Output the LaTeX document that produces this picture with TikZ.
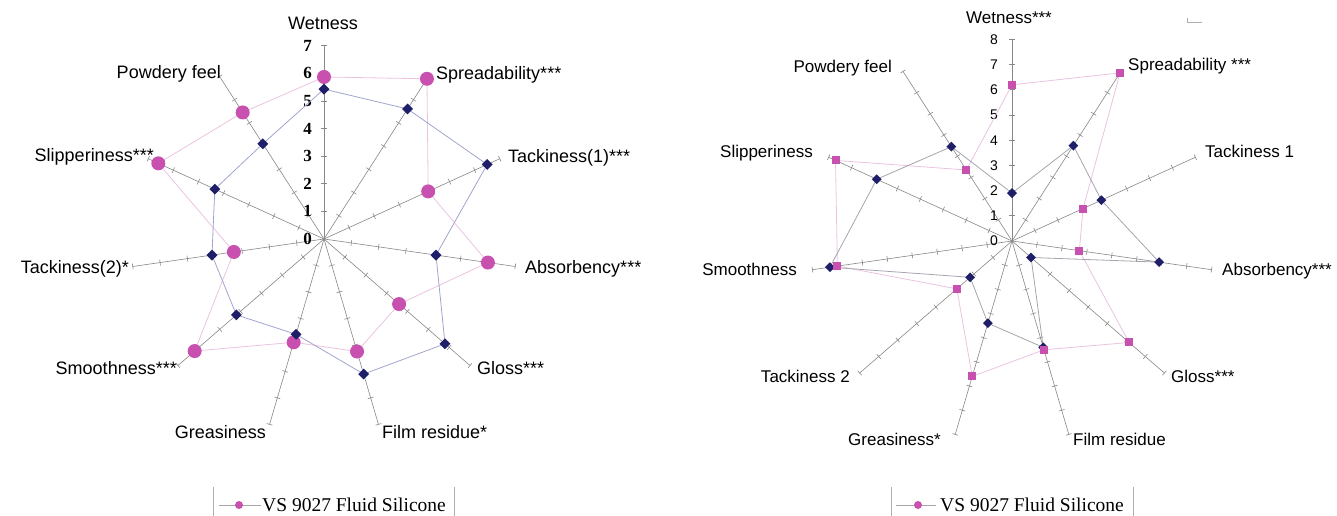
\documentclass[tikz,border=0pt]{standalone}
\usepackage{fontspec}
\setmainfont{Liberation Serif}
\setsansfont{Liberation Sans}
\usepackage{xcolor}
\usetikzlibrary{shapes.geometric}

\definecolor{pinkmark}{RGB}{200,80,175}
\definecolor{navymark}{RGB}{30,30,105}
\definecolor{pinkline}{RGB}{235,195,225}
\definecolor{navyline}{RGB}{160,165,205}
\definecolor{greyline}{RGB}{165,165,175}
\definecolor{axisgrey}{RGB}{135,135,135}
\definecolor{framegrey}{RGB}{175,175,175}

\begin{document}
\begin{tikzpicture}[x=1pt, y=1pt]
    \tikzset{
        axis_line/.style={draw=axisgrey, line width=0.6pt},
        series_pink/.style={draw=pinkline, line width=0.8pt},
        series_navy/.style={draw=navyline, line width=0.8pt},
        series_grey/.style={draw=greyline, line width=0.8pt},
        pink_dot/.style={circle, fill=pinkmark, inner sep=0pt, minimum size=14pt},
        pink_box/.style={rectangle, fill=pinkmark, inner sep=0pt, minimum size=8pt},
        navy_dia/.style={diamond, fill=navymark, inner sep=0pt, minimum size=11pt},
        navy_dia_small/.style={diamond, fill=navymark, inner sep=0pt, minimum size=10pt},
        label_l/.style={font=\sffamily\fontsize{18}{20}\selectfont, inner sep=0pt, text height=13pt, text depth=0pt},
        label_r/.style={font=\sffamily\fontsize{17}{19}\selectfont, inner sep=0pt, text height=12pt, text depth=0pt},
        num_l/.style={font=\bfseries\fontsize{17}{19}\selectfont, inner sep=0pt, text height=11pt, text depth=0pt, anchor=east},
        num_r/.style={font=\sffamily\fontsize{14}{16}\selectfont, inner sep=0pt, text height=10pt, text depth=0pt, anchor=east},
        legend_frame/.style={draw=framegrey, line width=0.7pt},
        legend_line/.style={draw=gray!70, line width=0.7pt},
        legend_mark/.style={circle, fill=pinkmark, inner sep=0pt, minimum size=8pt},
        legend_text/.style={font=\fontsize{19.5}{22}\selectfont, inner sep=0pt, text height=13pt, text depth=0pt, anchor=west}
    }
    \useasboundingbox (0,0) rectangle (1337,516);

    % left chart: 11 axes, 0..7
    \coordinate (LC) at (324,277);
    \foreach \k in {0,...,10} {
        \path (LC) ++({90-\k*360/11}:193.2) coordinate (LE\k);
        \draw[axis_line] (LC) -- (LE\k);
        \foreach \v in {1,...,7}
            \draw[axis_line] (LC) ++({90-\k*360/11}:\v*27.6) ++({-\k*360/11}:3) -- ++({180-\k*360/11}:6);
    }
    \foreach \v in {0,...,7}
        \path (LC) ++(-12,\v*27.6) node[num_l] {\v};

    \foreach \v [count=\k from 0] in {5.87,6.9,4.15,6.0,3.6,4.25,3.9,6.2,3.3,6.6,5.45}
        \path (LC) ++({90-\k*360/11}:\v*27.6) coordinate (LP\k);
    \foreach \v [count=\k from 0] in {5.43,5.6,6.5,4.1,5.8,5.1,3.6,4.2,4.1,4.35,4.1}
        \path (LC) ++({90-\k*360/11}:\v*27.6) coordinate (LN\k);
    \draw[series_pink] (LP0) \foreach \k in {1,...,10} { -- (LP\k) } -- cycle;
    \draw[series_navy] (LN0) \foreach \k in {1,...,10} { -- (LN\k) } -- cycle;
    \foreach \k in {0,...,10} \node[pink_dot] at (LP\k) {};
    \foreach \k in {0,...,10} \node[navy_dia] at (LN\k) {};

    \node[label_l] (l_wet) at (323,493) {Wetness};
    \node[label_l, anchor=west] (l_spread) at (436,443) {Spreadability***};
    \node[label_l, anchor=west] (l_tack1) at (508,360) {Tackiness(1)***};
    \node[label_l, anchor=west] (l_abs) at (525,249) {Absorbency***};
    \node[label_l, anchor=west] (l_gloss) at (477,148) {Gloss***};
    \node[label_l, anchor=west] (l_film) at (382,84) {Film residue*};
    \node[label_l, anchor=east] (l_grease) at (266,84) {Greasiness};
    \node[label_l, anchor=east] (l_smooth) at (177,148) {Smoothness***};
    \node[label_l, anchor=east] (l_tack2) at (129,249) {Tackiness(2)*};
    \node[label_l, anchor=east] (l_slip) at (154,361) {Slipperiness***};
    \node[label_l, anchor=east] (l_powder) at (221,444) {Powdery feel};

    % left legend
    \coordinate (LLa) at (213,0);
    \coordinate (LLb) at (213,29);
    \coordinate (LLc) at (454,0);
    \coordinate (LLd) at (454,29);
    \draw[legend_frame] (LLa) -- (LLb);
    \draw[legend_frame] (LLc) -- (LLd);
    \coordinate (LLs) at (219,11);
    \coordinate (LLt) at (261,11);
    \draw[legend_line] (LLs) -- (LLt);
    \node[legend_mark] (LLm) at (239,11) {};
    \node[legend_text] (LLx) at (262,11) {VS 9027 Fluid Silicone};

    % right chart: 11 axes, 0..8
    \coordinate (RC) at (1012,275);
    \foreach \k in {0,...,10} {
        \path (RC) ++({90-\k*360/11}:201.6) coordinate (RE\k);
        \draw[axis_line] (RC) -- (RE\k);
        \foreach \v in {1,...,8}
            \draw[axis_line] (RC) ++({90-\k*360/11}:\v*25.2) ++({-\k*360/11}:3) -- ++({180-\k*360/11}:6);
    }
    \foreach \v in {0,...,8}
        \path (RC) ++(-14,\v*25.2) node[num_r] {\v};

    \foreach \v [count=\k from 0] in {6.2,7.93,3.1,2.7,6.15,4.5,5.6,2.9,7.0,7.7,3.35}
        \path (RC) ++({90-\k*360/11}:\v*25.2) coordinate (RP\k);
    \foreach \v [count=\k from 0] in {1.9,4.5,3.9,5.9,1.0,4.4,3.4,2.2,7.3,5.9,4.45}
        \path (RC) ++({90-\k*360/11}:\v*25.2) coordinate (RN\k);
    \draw[series_pink] (RP0) \foreach \k in {1,...,10} { -- (RP\k) } -- cycle;
    \draw[series_grey] (RN0) \foreach \k in {1,...,10} { -- (RN\k) } -- cycle;
    \foreach \k in {0,...,10} \node[navy_dia_small] at (RN\k) {};
    \foreach \k in {0,...,10} \node[pink_box] at (RP\k) {};

    \node[label_r] (r_wet) at (1009,498) {Wetness***};
    \node[label_r, anchor=west] (r_spread) at (1128,451) {Spreadability ***};
    \node[label_r, anchor=west] (r_tack1) at (1205,364) {Tackiness 1};
    \node[label_r, anchor=west] (r_abs) at (1222,246) {Absorbency***};
    \node[label_r, anchor=west] (r_gloss) at (1171,139) {Gloss***};
    \node[label_r, anchor=west] (r_film) at (1073,76) {Film residue};
    \node[label_r, anchor=east] (r_grease) at (941,76) {Greasiness*};
    \node[label_r, anchor=east] (r_tack2) at (850,139) {Tackiness 2};
    \node[label_r, anchor=east] (r_smooth) at (797,246) {Smoothness};
    \node[label_r, anchor=east] (r_slip) at (813,364) {Slipperiness};
    \node[label_r, anchor=east] (r_powder) at (892,449) {Powdery feel};

    % stray corner mark
    \coordinate (RMa) at (1187,498);
    \coordinate (RMb) at (1187,494);
    \coordinate (RMc) at (1202,494);
    \draw[legend_frame] (RMa) -- (RMb) -- (RMc);

    % right legend
    \coordinate (RLa) at (891,0);
    \coordinate (RLb) at (891,29);
    \coordinate (RLc) at (1133,0);
    \coordinate (RLd) at (1133,29);
    \draw[legend_frame] (RLa) -- (RLb);
    \draw[legend_frame] (RLc) -- (RLd);
    \coordinate (RLs) at (896,11);
    \coordinate (RLt) at (936,11);
    \draw[legend_line] (RLs) -- (RLt);
    \node[legend_mark] (RLm) at (918,11) {};
    \node[legend_text] (RLx) at (940,11) {VS 9027 Fluid Silicone};
\end{tikzpicture}
\end{document}
